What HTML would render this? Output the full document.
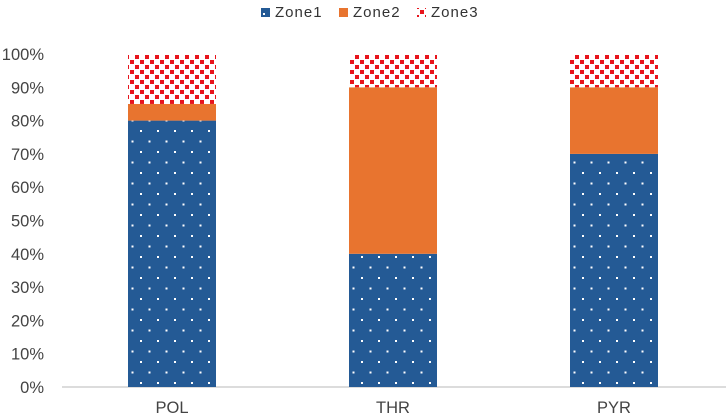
<!DOCTYPE html>
<html><head><meta charset="utf-8"><style>
html,body{margin:0;padding:0;background:#fff;width:726px;height:419px;overflow:hidden}
svg{display:block;font-family:"Liberation Sans",sans-serif}
</style></head><body>
<svg id="c" width="726" height="419">
<defs>
<pattern id="p1" width="17" height="21" patternUnits="userSpaceOnUse">
<rect width="17" height="21" fill="#245a95"/>
<rect x="4" y="4" width="2" height="2" fill="#fff"/><rect x="12.5" y="14.5" width="2" height="2" fill="#fff"/>
</pattern>
<pattern id="p3" width="10" height="10" patternUnits="userSpaceOnUse">
<rect width="10" height="10" fill="#fff"/>
<rect x="0" y="0" width="4" height="4" fill="#e8141c"/><rect x="5" y="5" width="4" height="4" fill="#e8141c"/>
</pattern>
</defs>
<g id="legend">
<g><rect x="261" y="8" width="9" height="9" fill="#245a95"/><rect x="263" y="13" width="2" height="2" fill="#fff"/><text x="275" y="17" font-size="15" fill="#333" letter-spacing="1">Zone1</text></g>
<g><rect x="339" y="8" width="9" height="9" fill="#e8742f"/><text x="353" y="17" font-size="15" fill="#333" letter-spacing="1">Zone2</text></g>
<g><rect x="417" y="8" width="9" height="9" fill="url(#p3)"/><text x="431" y="17" font-size="15" fill="#333" letter-spacing="1">Zone3</text></g>
</g>
<g id="axes"></g>
<g id="bars"></g>
</svg>
<script>
const categories=["POL","THR","PYR"];
const zone1=[80,40,70];
const zone2=[5,50,20];
const zone3=[15,10,10];
const ticks=[0,10,20,30,40,50,60,70,80,90,100];
const NS="http://www.w3.org/2000/svg";
const y0=387,y1=54,xL=62,xR=726;
function y(v){return y0-(v/100)*(y0-y1);}
function xc(i){return 172+i*221;}
const bw=88;
const axes=document.getElementById('axes'),bars=document.getElementById('bars');
function mk(tag,at,p){const e=document.createElementNS(NS,tag);for(const k in at)e.setAttribute(k,at[k]);p.appendChild(e);return e;}
ticks.forEach(t=>{
 const tx=mk('text',{x:44,y:y(t)+6,'font-size':16.5,fill:'#444','text-anchor':'end'},axes);
 tx.textContent=t+'%';
 
 
});
const ax=mk('line',{x1:xL,x2:xR,y1:y0,y2:y0,stroke:'#d0d0d0','stroke-width':1.5},axes);


categories.forEach((c,i)=>{
 const t=mk('text',{x:xc(i),y:413,'font-size':16.5,fill:'#444','text-anchor':'middle'},axes);
 t.textContent=c;
 
 
 let base=0;
 [[zone1,'url(#p1)','zone1'],[zone2,'#e8742f','zone2'],[zone3,'url(#p3)','zone3']].forEach(([arr,f,n])=>{
  const v=arr[i];
  const r=mk('rect',{x:xc(i)-bw/2,y:y(base+v),width:bw,height:y(base)-y(base+v),fill:f},bars);
  
  
  base+=v;
 });
});
</script>
</body></html>
